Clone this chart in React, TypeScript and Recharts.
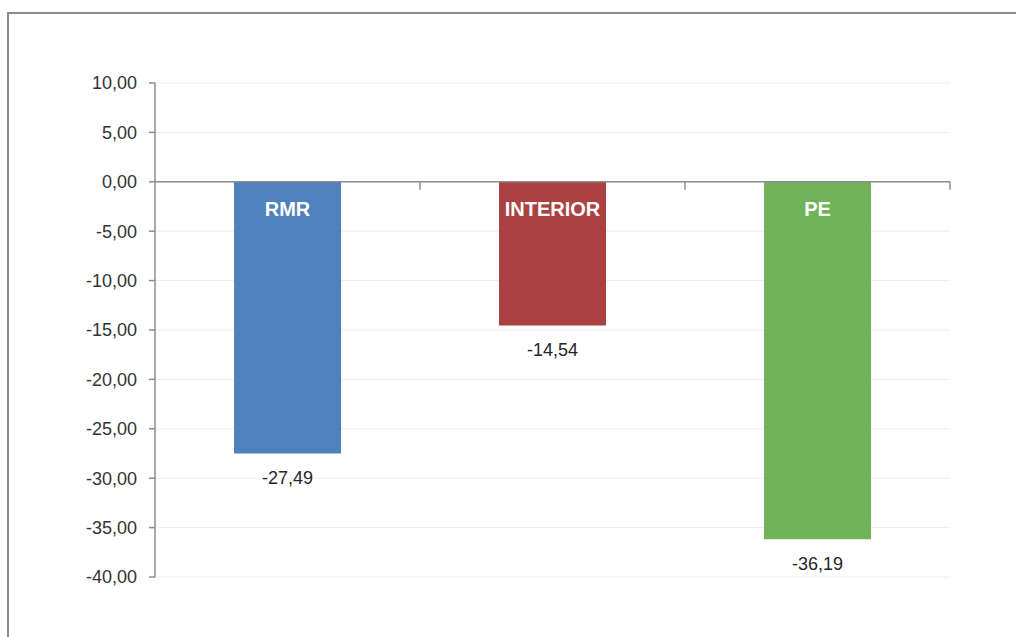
import {
  ComposedChart,
  Bar,
  XAxis,
  YAxis,
  CartesianGrid,
  ReferenceLine,
  LabelList,
  Cell,
} from "recharts"

// ---------------------------------------------------------------------------
// Data
// ---------------------------------------------------------------------------

const CATEGORIES = ["RMR", "INTERIOR", "PE"]
const VALUES = [-27.49, -14.54, -36.19]
const BAR_COLORS = ["#4f81bd", "#ab4040", "#71b35a"]
const Y_TICKS = [10, 5, 0, -5, -10, -15, -20, -25, -30, -35, -40]

const data = CATEGORIES.map((name, i) => ({ name, value: VALUES[i] }))

const FONT = "'Liberation Sans', Arial, sans-serif"
const AXIS_GRAY = "#8c8c8c"

// ---------------------------------------------------------------------------
// Helpers
// ---------------------------------------------------------------------------

function fmt(v: number): string {
  return v.toFixed(2).replace(".", ",")
}

// Zero line with small tick marks at the category boundaries
function ZeroAxis(props: any) {
  const { x1, x2, y1 } = props
  const n = CATEGORIES.length
  const step = (x2 - x1) / n
  const ticks = []
  for (let i = 1; i <= n; i++) {
    const x = x1 + step * i
    ticks.push(<line key={i} x1={x} x2={x} y1={y1} y2={y1 + 8} stroke={AXIS_GRAY} strokeWidth={1.5} />)
  }
  return (
    <g>
      <line x1={x1} x2={x2} y1={y1} y2={y1} stroke={AXIS_GRAY} strokeWidth={1.5} />
      {ticks}
    </g>
  )
}

function NameLabel(props: any) {
  const { x, y, width, height, value } = props
  const top = Math.min(y, y + height)
  return (
    <text
      x={x + width / 2}
      y={top + 29}
      textAnchor="middle"
      dominantBaseline="middle"
      fill="#ffffff"
      fontFamily={FONT}
      fontSize={20}
      fontWeight="bold"
    >
      {value}
    </text>
  )
}

function ValueLabel(props: any) {
  const { x, y, width, height, value } = props
  const bottom = Math.max(y, y + height)
  return (
    <text
      x={x + width / 2}
      y={bottom + 26}
      textAnchor="middle"
      dominantBaseline="middle"
      fill="#262626"
      fontFamily={FONT}
      fontSize={18}
    >
      {fmt(value)}
    </text>
  )
}

// ---------------------------------------------------------------------------
// Component
// ---------------------------------------------------------------------------

export default function App() {
  return (
    <div
      style={{
        position: "fixed",
        left: 0,
        top: 0,
        width: 1016,
        height: 637,
        overflow: "hidden",
        background: "#ffffff",
      }}
    >
      <div
        style={{
          position: "absolute",
          left: 7,
          top: 12,
          width: 1040,
          height: 660,
          borderLeft: `2px solid ${AXIS_GRAY}`,
          borderTop: `2px solid ${AXIS_GRAY}`,
        }}
      />
      <div style={{ position: "absolute", left: 0, top: 0 }}>
        <ComposedChart
          width={1016}
          height={637}
          data={data}
          margin={{ top: 83, right: 66, bottom: 60, left: 75 }}
        >
          <CartesianGrid horizontal vertical={false} stroke="#eeeeee" />
          <XAxis dataKey="name" hide />
          <YAxis
            width={80}
            domain={[-40, 10]}
            ticks={Y_TICKS}
            interval={0}
            tickFormatter={fmt}
            tickSize={6}
            tickMargin={12}
            stroke={AXIS_GRAY}
            axisLine={{ stroke: AXIS_GRAY, strokeWidth: 1.5 }}
            tickLine={{ stroke: AXIS_GRAY, strokeWidth: 1.5 }}
            tick={{ fontSize: 18, fill: "#333333", fontFamily: FONT }}
          />
          <Bar dataKey="value" barSize={107} isAnimationActive={false}>
            {data.map((d, i) => (
              <Cell key={d.name} fill={BAR_COLORS[i]} />
            ))}
            <LabelList dataKey="name" content={NameLabel} />
            <LabelList dataKey="value" content={ValueLabel} />
          </Bar>
          <ReferenceLine y={0} shape={ZeroAxis} />
        </ComposedChart>
      </div>
    </div>
  )
}
